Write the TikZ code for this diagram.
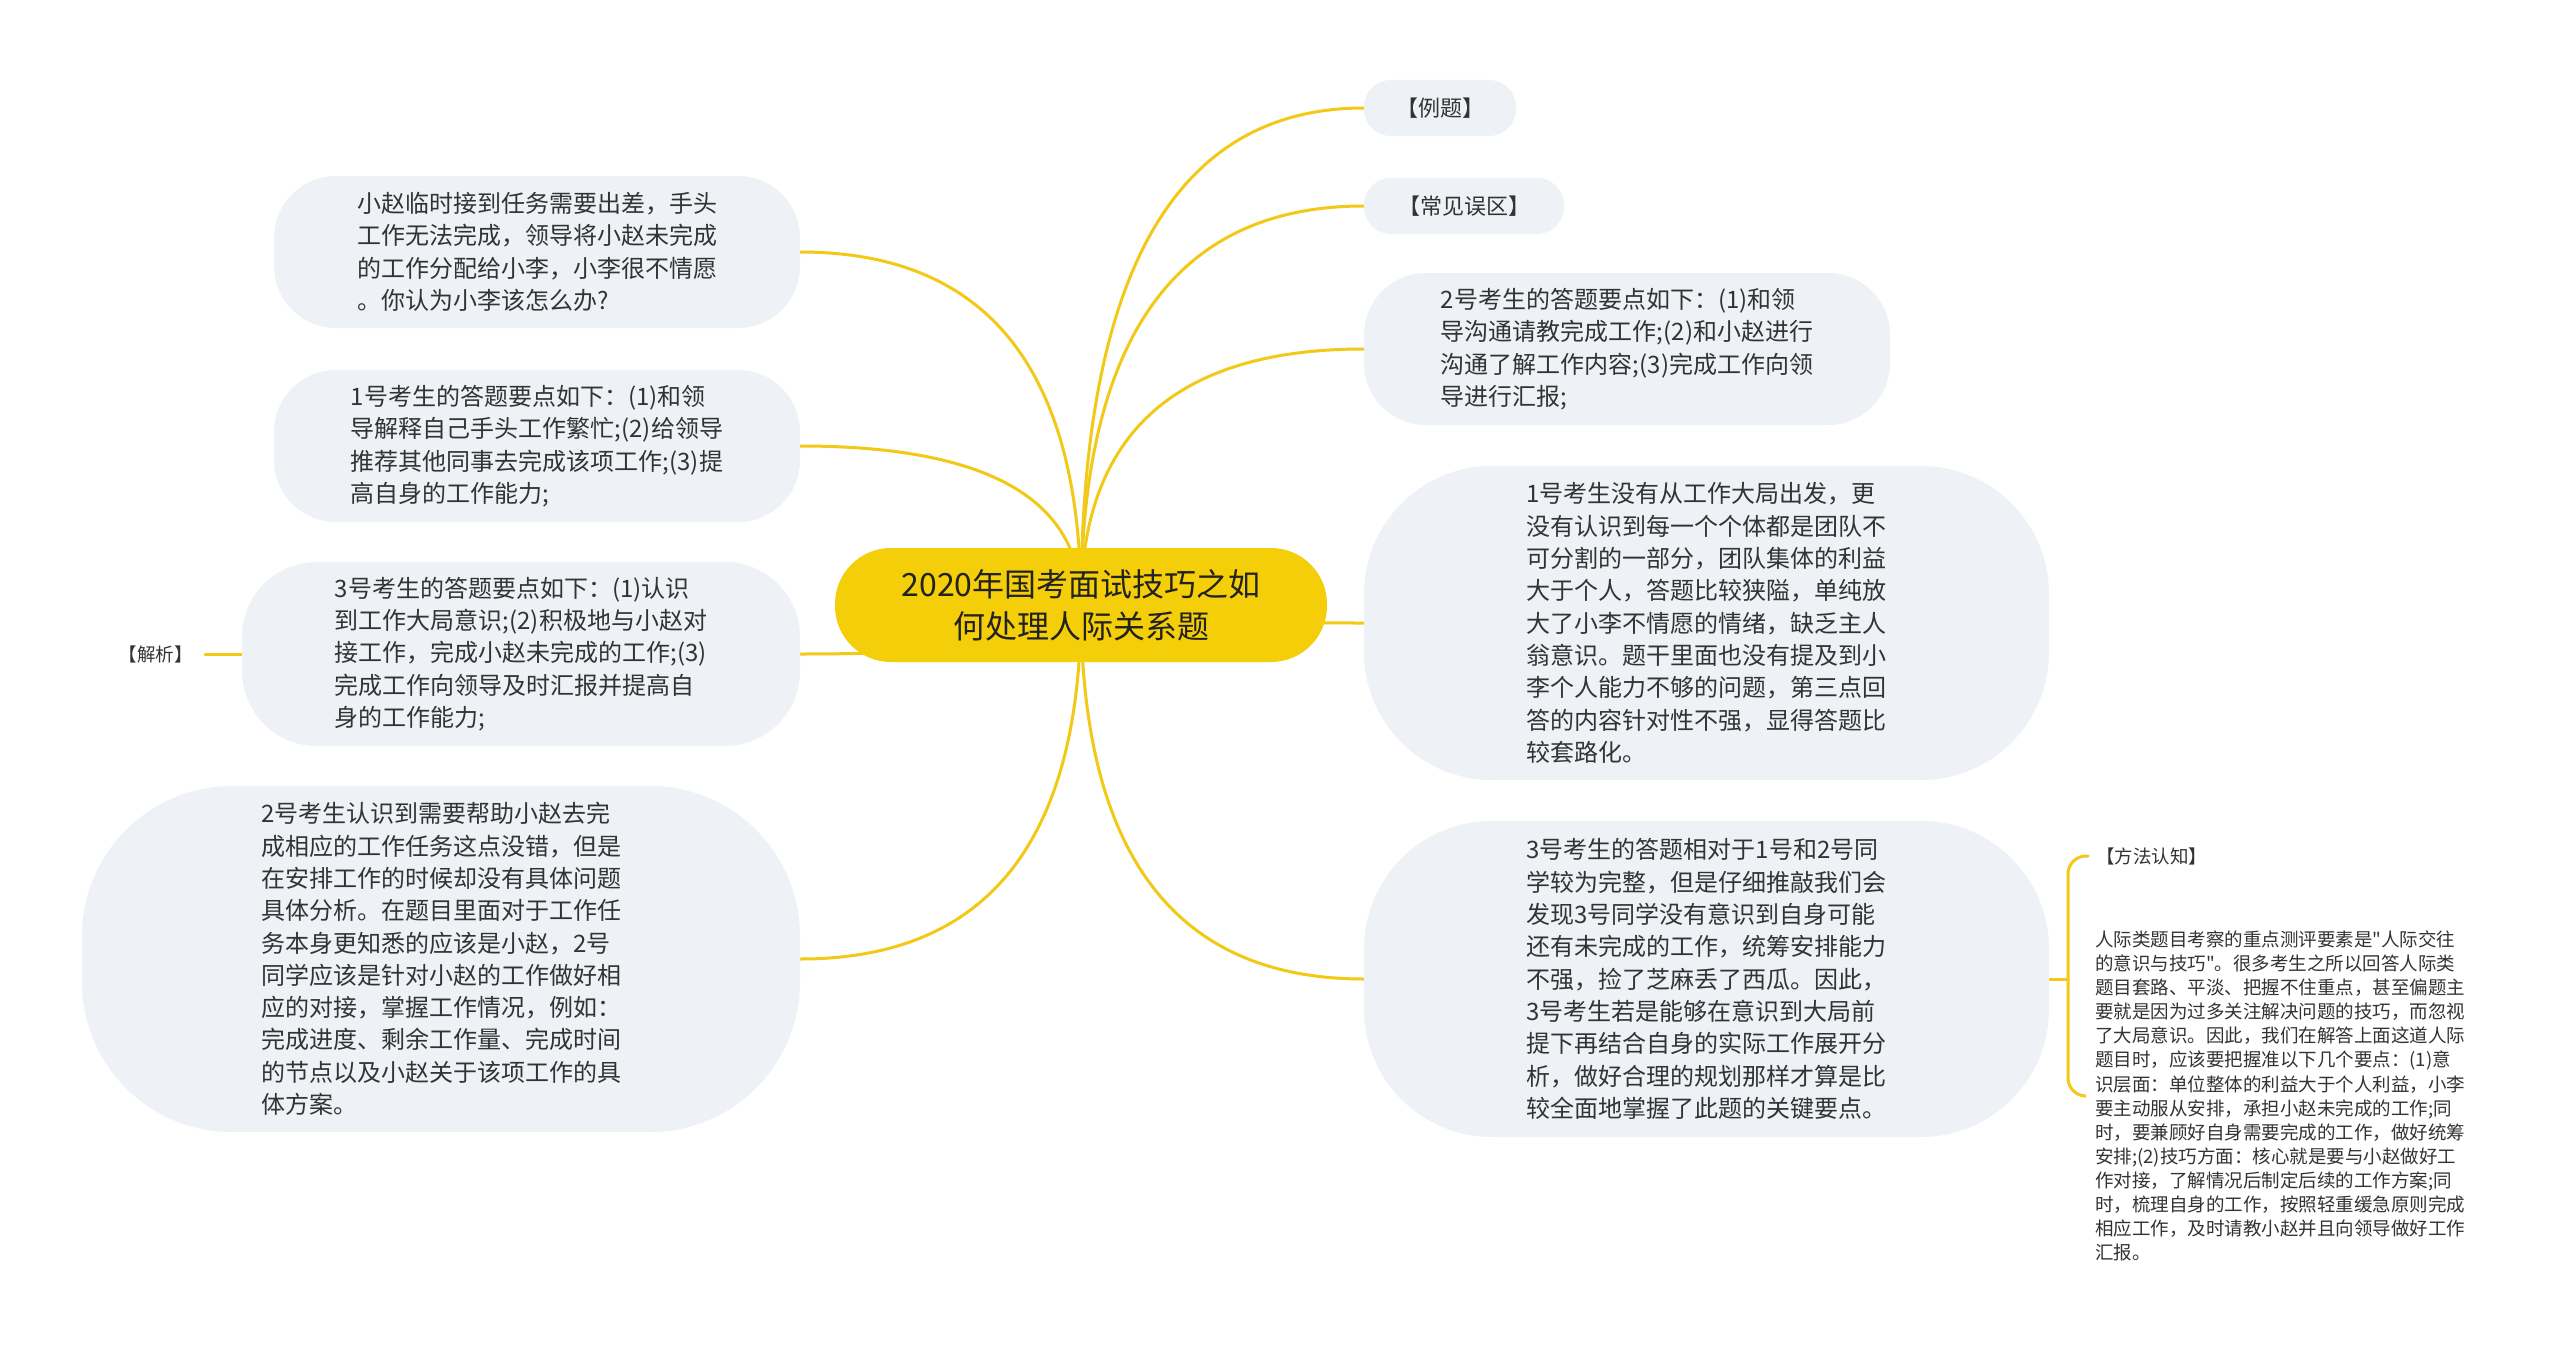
\documentclass[tikz,border=0pt]{standalone}
\usepackage{fontspec}
\newfontfamily\cjk{Noto Sans CJK SC}
\usetikzlibrary{calc}
\pgfdeclarelayer{bg}
\pgfsetlayers{bg,main}
\definecolor{boxfill}{RGB}{238,241,245}
\definecolor{hubfill}{RGB}{245,206,10}
\definecolor{linkcol}{RGB}{241,201,22}
\definecolor{ink}{RGB}{51,51,51}
\definecolor{hubink}{RGB}{34,34,30}
\tikzset{
  box/.style={fill=boxfill, inner sep=0pt, align=left, text=ink,
    font=\cjk\fontsize{24pt}{32.3pt}\selectfont},
  hubbox/.style={fill=hubfill, inner sep=0pt, align=center, text=hubink,
    font=\cjk\fontsize{32pt}{42pt}\selectfont,
    minimum width=492pt, minimum height=114pt, rounded corners=56pt},
  tagbox/.style={fill=boxfill, inner sep=0pt, text=ink,
    font=\cjk\fontsize{22pt}{28pt}\selectfont,
    minimum height=56pt, rounded corners=27pt},
  note/.style={inner sep=8pt, align=left, text=ink,
    font=\cjk\fontsize{18.5pt}{22pt}\selectfont},
  longnote/.style={inner sep=10pt, align=left, text=ink,
    font=\cjk\fontsize{18.5pt}{24.1pt}\selectfont},
  link/.style={draw=linkcol, line width=3pt, line cap=round},
}
\newcommand{\curvelink}[2]{%
  \coordinate (k#2) at (hub.center |- #1);
  \draw[link] (hub.center) .. controls ($(hub.center)!0.667!(k#2)$) and ($(#1)!0.667!(k#2)$) .. (#1);
}
\begin{document}
\begin{tikzpicture}[x=1pt, y=-1pt]
\useasboundingbox (0,0) rectangle (2560,1354);

% central topic
\node[hubbox] (hub) at (1081,605) {2020年国考面试技巧之如\\何处理人际关系题};

% right side
\node[tagbox, minimum width=152pt] (r1) at (1440,108) {【例题】};
\node[tagbox, minimum width=200pt] (r2) at (1464,206) {【常见误区】};
\node[box, minimum width=526pt, minimum height=152pt, rounded corners=62pt] (r3) at (1627,349)
 {2号考生的答题要点如下：(1)和领\\导沟通请教完成工作;(2)和小赵进行\\沟通了解工作内容;(3)完成工作向领\\导进行汇报;};
\node[box, minimum width=685pt, minimum height=314pt, rounded corners=128pt] (r4) at (1706.5,623)
 {1号考生没有从工作大局出发，更\\没有认识到每一个个体都是团队不\\可分割的一部分，团队集体的利益\\大于个人，答题比较狭隘，单纯放\\大了小李不情愿的情绪，缺乏主人\\翁意识。题干里面也没有提及到小\\李个人能力不够的问题，第三点回\\答的内容针对性不强，显得答题比\\较套路化。};
\node[box, minimum width=685pt, minimum height=316pt, rounded corners=128pt] (r5) at (1706.5,979)
 {3号考生的答题相对于1号和2号同\\学较为完整，但是仔细推敲我们会\\发现3号同学没有意识到自身可能\\还有未完成的工作，统筹安排能力\\不强，捡了芝麻丢了西瓜。因此，\\3号考生若是能够在意识到大局前\\提下再结合自身的实际工作展开分\\析，做好合理的规划那样才算是比\\较全面地掌握了此题的关键要点。};

\node[note, anchor=west] (fa) at (2088,856) {【方法认知】};
\node[longnote, anchor=west] (lt) at (2085,1096)
 {人际类题目考察的重点测评要素是"人际交往\\的意识与技巧"。很多考生之所以回答人际类\\题目套路、平淡、把握不住重点，甚至偏题主\\要就是因为过多关注解决问题的技巧，而忽视\\了大局意识。因此，我们在解答上面这道人际\\题目时，应该要把握准以下几个要点：(1)意\\识层面：单位整体的利益大于个人利益，小李\\要主动服从安排，承担小赵未完成的工作;同\\时，要兼顾好自身需要完成的工作，做好统筹\\安排;(2)技巧方面：核心就是要与小赵做好工\\作对接，了解情况后制定后续的工作方案;同\\时，梳理自身的工作，按照轻重缓急原则完成\\相应工作，及时请教小赵并且向领导做好工作\\汇报。};
\coordinate (bk) at (2068,979);

% left side
\node[box, minimum width=526pt, minimum height=152pt, rounded corners=62pt] (l1) at (537,252)
 {小赵临时接到任务需要出差，手头\\工作无法完成，领导将小赵未完成\\的工作分配给小李，小李很不情愿\\。你认为小李该怎么办?};
\node[box, minimum width=526pt, minimum height=152pt, rounded corners=62pt] (l2) at (537,446)
 {1号考生的答题要点如下：(1)和领\\导解释自己手头工作繁忙;(2)给领导\\推荐其他同事去完成该项工作;(3)提\\高自身的工作能力;};
\node[box, minimum width=558pt, minimum height=184pt, rounded corners=75pt] (l3) at (521,654)
 {3号考生的答题要点如下：(1)认识\\到工作大局意识;(2)积极地与小赵对\\接工作，完成小赵未完成的工作;(3)\\完成工作向领导及时汇报并提高自\\身的工作能力;};
\node[box, minimum width=718pt, minimum height=346pt, rounded corners=150pt] (l4) at (441,959)
 {2号考生认识到需要帮助小赵去完\\成相应的工作任务这点没错，但是\\在安排工作的时候却没有具体问题\\具体分析。在题目里面对于工作任\\务本身更知悉的应该是小赵，2号\\同学应该是针对小赵的工作做好相\\应的对接，掌握工作情况，例如：\\完成进度、剩余工作量、完成时间\\的节点以及小赵关于该项工作的具\\体方案。};
\node[note, inner sep=12pt, anchor=east] (jx) at (205,654) {【解析】};

\begin{pgfonlayer}{bg}
\fill[white] (0,0) rectangle (2560,1354);
\curvelink{r1.west}{a}
\curvelink{r2.west}{b}
\curvelink{r3.west}{c}
\curvelink{r4.west}{d}
\curvelink{r5.west}{e}
\curvelink{l1.east}{f}
\curvelink{l2.east}{g}
\curvelink{l3.east}{h}
\curvelink{l4.east}{i}
\draw[link] (r5.east) -- (bk);
\draw[link, rounded corners=18pt] (fa.west) -| (bk) |- (lt.west);
\draw[link] (l3.west) -- (jx.east);
\end{pgfonlayer}
\end{tikzpicture}
\end{document}
